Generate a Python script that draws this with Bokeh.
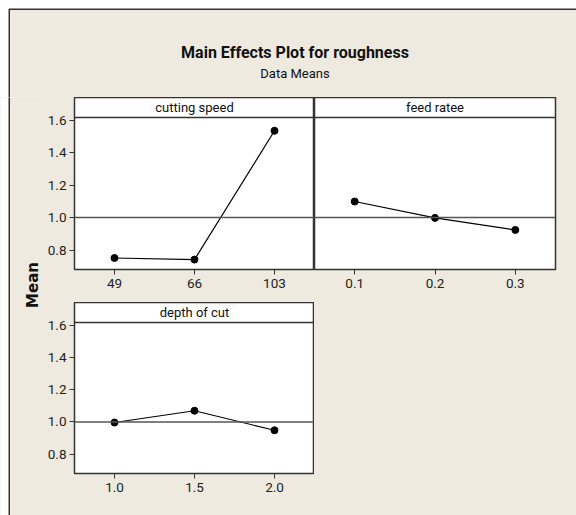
import math
from bokeh.plotting import figure
from bokeh.layouts import row, column
from bokeh.models import (FactorRange, Range1d, Span, Label, FixedTicker, PrintfTickFormatter,
                          BoxAnnotation)
from bokeh.embed import file_html
from bokeh.resources import INLINE

# ---- data ----
title_text = "Main Effects Plot for roughness"
subtitle_text = "Data Means"
y_label = "Mean"
factor_names = ["cutting speed", "feed ratee", "depth of cut"]
speed_levels = ["49", "66", "103"]
speed_means = [0.751, 0.741, 1.535]
feed_levels = ["0.1", "0.2", "0.3"]
feed_means = [1.099, 0.998, 0.924]
depth_levels = ["1.0", "1.5", "2.0"]
depth_means = [0.996, 1.069, 0.948]
grand_mean = 1.0
y_ticks = [0.8, 1.0, 1.2, 1.4, 1.6]

# ---- style ----
BG = "#EEEADF"
FONT = "Roboto"
DARK = "#333333"
Y_LO, Y_HI = 0.68, 1.74
STRIP_BOTTOM = 1.616
EDGE = 8  # white page margin around the chart frame


def blank(width, height, top_edge):
    p = figure(width=width, height=height, output_backend="svg", toolbar_location=None,
               x_range=Range1d(0, width), y_range=Range1d(height, 0),
               min_border_left=0, min_border_right=0, min_border_top=0, min_border_bottom=0)
    p.axis.visible = False
    p.grid.visible = False
    p.outline_line_color = None
    p.background_fill_color = "white"
    p.border_fill_color = "white"
    p.frame_align = False
    top = EDGE + 0.75 if top_edge else -10
    p.add_layout(BoxAnnotation(left=EDGE + 0.75, right=width + 10, top=top, bottom=height + 10,
                               fill_color=BG, fill_alpha=1, line_color=DARK, line_alpha=1,
                               line_width=1.5))
    return p


def panel(levels, means, name, width, height, left, right, bottom, show_y):
    p = figure(width=width, height=height, output_backend="svg", toolbar_location=None,
               x_range=FactorRange(*levels), y_range=Range1d(Y_LO, Y_HI),
               min_border_left=left, min_border_right=right, min_border_top=0,
               min_border_bottom=bottom)
    p.frame_align = False
    p.background_fill_color = "white"
    p.border_fill_color = BG
    p.outline_line_color = DARK
    p.outline_line_width = 1.5
    p.grid.visible = False
    for ax in (p.xaxis[0], p.yaxis[0]):
        ax.axis_line_color = None
        ax.major_tick_line_color = DARK
        ax.major_tick_out = 5
        ax.major_tick_in = 0
        ax.minor_tick_line_color = None
        ax.major_label_text_font = FONT
        ax.major_label_text_font_size = "13.5px"
        ax.major_label_text_color = "#222222"
        ax.major_label_standoff = 4
    p.yaxis.ticker = FixedTicker(ticks=y_ticks)
    p.yaxis.formatter = PrintfTickFormatter(format="%.1f")
    p.yaxis.major_label_standoff = 3
    p.yaxis.visible = show_y
    p.add_layout(Span(location=grand_mean, dimension="width", line_color="#555555", line_width=1.5))
    p.add_layout(Span(location=STRIP_BOTTOM, dimension="width", line_color=DARK, line_width=1.5))
    p.add_layout(Label(x=len(levels) / 2, y=(STRIP_BOTTOM + Y_HI) / 2, text=name,
                       text_align="center", text_baseline="middle", text_font=FONT,
                       text_font_size="13px", text_color="#111111"))
    p.line(x=levels, y=means, line_color="black", line_width=1.2)
    p.scatter(x=levels, y=means, size=7, fill_color="black", line_color="black")
    return p


header = blank(576, 97, True)
header.add_layout(Label(x=294.5, y=51.7, text=title_text, text_align="center",
                        text_baseline="alphabetic", text_font=FONT, text_font_style="bold",
                        text_font_size="16px", text_color="#111111"))
header.add_layout(Label(x=294.5, y=73.3, text=subtitle_text, text_align="center",
                        text_baseline="alphabetic", text_font=FONT, text_font_size="13px",
                        text_color="#111111"))

label_fig = blank(44, 418, False)
label_fig.add_layout(Label(x=32.3, y=187.5, text=y_label, angle=math.pi / 2, text_align="center",
                           text_baseline="middle", text_font="DejaVu Sans", text_font_style="bold",
                           text_font_size="15px", text_color="#111111"))

pa = panel(speed_levels, speed_means, factor_names[0], 270, 205, 29, 0, 33, True)
pc = panel(depth_levels, depth_means, factor_names[2], 270, 213, 29, 0, 42, True)
pb = panel(feed_levels, feed_means, factor_names[1], 262, 418, 0, 21, 246, False)

bg = {"background-color": BG}
layout = column(header,
                row(label_fig, column(pa, pc, styles=bg), pb, styles=bg))

open("out.html", "w").write(file_html(layout, INLINE))
